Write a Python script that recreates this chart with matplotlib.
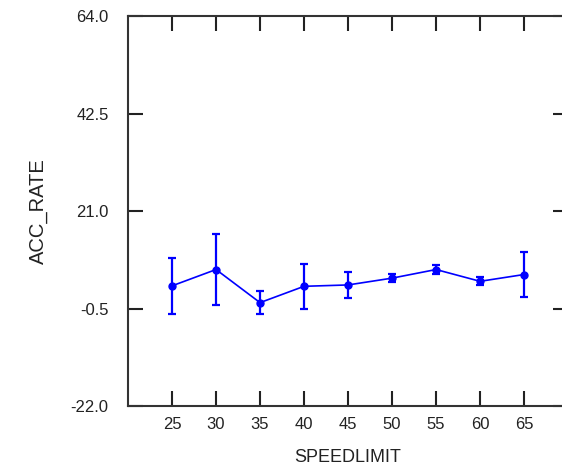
import matplotlib.pyplot as plt

plt.rcParams["font.family"] = ["Liberation Sans", "DejaVu Sans"]

speedlimit = [25, 30, 35, 40, 45, 50, 55, 60, 65]
acc_rate = [4.5, 8.1, 0.8, 4.4, 4.7, 6.2, 8.1, 5.5, 7.0]
acc_err = [6.2, 7.8, 2.5, 4.9, 2.9, 0.9, 0.9, 0.9, 5.0]
yticks = [-22.0, -0.5, 21.0, 42.5, 64.0]

fig = plt.figure(figsize=(5.62, 4.67), dpi=100)
ax = fig.add_axes([0.2278, 0.1306, 0.783, 0.835])

ax.errorbar(speedlimit, acc_rate, yerr=acc_err, color="#0000ff", lw=1.2,
            elinewidth=1.6, capsize=3, capthick=1.6, marker="o", ms=5)

ax.set_xlim(20, 70)
ax.set_ylim(-22, 64)
ax.set_xticks(speedlimit)
ax.set_yticks(yticks)
ax.set_yticklabels([f"{v:.1f}" for v in yticks])
ax.tick_params(direction="in", length=11, width=1.5, top=True, right=True,
               labelsize=12, colors="#222222")
ax.tick_params(axis="y", pad=14)
ax.tick_params(axis="x", pad=8)
for s in ax.spines.values():
    s.set_linewidth(1.5)
    s.set_color("#333333")
# right edge of the frame falls outside the picture
ax.spines["right"].set_visible(False)

ax.set_xlabel("SPEEDLIMIT", fontsize=13, color="#222222", labelpad=12)
ax.set_ylabel("ACC_RATE", fontsize=14.5, color="#222222", labelpad=16)

plt.savefig("out.png", dpi=100)
